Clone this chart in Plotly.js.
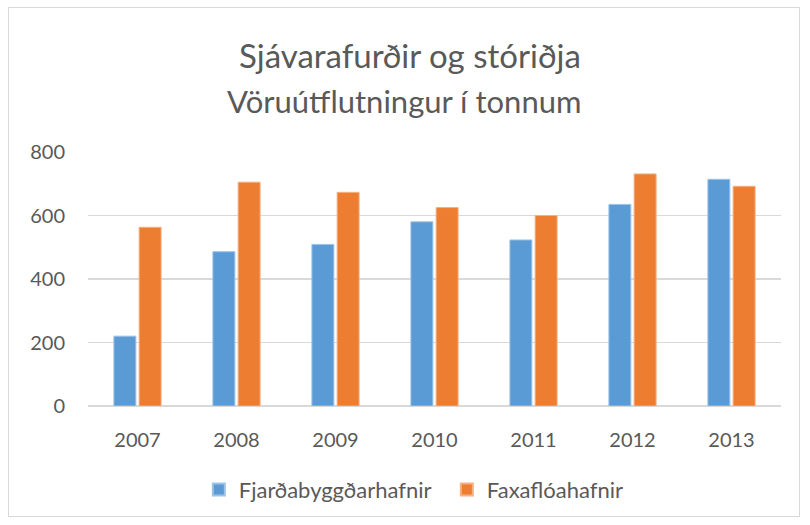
<!DOCTYPE html>
<html>
<head>
<meta charset="utf-8">
<script src="https://cdn.plot.ly/plotly-3.0.1.min.js"></script>
<style>
  html, body { margin: 0; padding: 0; background: #fff; }
  #wrap { position: relative; width: 810px; height: 525px; }
  #chart { width: 810px; height: 525px; }
  #frame { position: absolute; left: 8px; top: 7px; width: 792px; height: 510px; border: 1px solid #D9D9D9; pointer-events: none; box-sizing: border-box; }
</style>
</head>
<body>
<div id="wrap"><div id="chart"></div><div id="frame"></div></div>
<script>
const years = ['2007', '2008', '2009', '2010', '2011', '2012', '2013'];
const fjardabyggdarhafnir = [220, 486, 509, 580, 523, 635, 714];
const faxafloahafnir = [563, 705, 673, 625, 600, 731, 692];
const seriesNames = ['Fjarðabyggðarhafnir', 'Faxaflóahafnir'];
const yTicks = [0, 200, 400, 600, 800];
const titleLine1 = 'Sjávarafurðir og stóriðja';
const titleLine2 = 'Vöruútflutningur í tonnum';

const font = 'Lato, "Open Sans", "Noto Sans", sans-serif';
const textColor = '#595959';

const traces = [
  {
    type: 'bar', name: seriesNames[0], x: years, y: fjardabyggdarhafnir,
    marker: { color: '#5B9BD5', line: { color: '#9DC3E6', width: 1 } },
    hoverinfo: 'x+y+name'
  },
  {
    type: 'bar', name: seriesNames[1], x: years, y: faxafloahafnir,
    marker: { color: '#ED7D31', line: { color: '#F4B183', width: 1 } },
    hoverinfo: 'x+y+name'
  }
];

const layout = {
  width: 810, height: 525,
  margin: { l: 88, r: 29, t: 152, b: 119 },
  paper_bgcolor: '#fff', plot_bgcolor: '#fff',
  font: { family: font, color: textColor, size: 20 },
  title: {
    text: titleLine1,
    font: { family: font, size: 33, color: textColor },
    x: 410 / 810, xanchor: 'center', y: 1 - 56 / 525, yanchor: 'middle'
  },
  annotations: [{
    text: titleLine2, xref: 'paper', yref: 'paper',
    x: 0.456, y: (406 - 101) / 254, xanchor: 'center', yanchor: 'middle',
    showarrow: false, font: { family: font, size: 31, color: textColor }
  }],
  barmode: 'group', bargap: 0.49, bargroupgap: 0.13,
  xaxis: {
    type: 'category', showgrid: false, zeroline: false, showline: false,
    ticks: '', ticklabelstandoff: 20, tickfont: { size: 20, color: textColor }
  },
  yaxis: {
    range: [0, 800], tickvals: yTicks, ticktext: yTicks.map(String),
    showgrid: true, gridcolor: '#D9D9D9', gridwidth: 1.5, zeroline: true,
    zerolinecolor: '#D9D9D9', zerolinewidth: 1.5, showline: false, ticks: '',
    ticklabelstandoff: 22,
    tickfont: { size: 20, color: textColor }
  },
  showlegend: true,
  legend: {
    orientation: 'h', x: 0.5178, xanchor: 'center', y: -0.33, yanchor: 'middle',
    font: { size: 22, color: textColor }, itemsizing: 'constant', traceorder: 'normal',
    entrywidth: 203, entrywidthmode: 'pixels'
  }
};

Plotly.newPlot('chart', traces, layout, { displayModeBar: false, staticPlot: true });
</script>
</body>
</html>
